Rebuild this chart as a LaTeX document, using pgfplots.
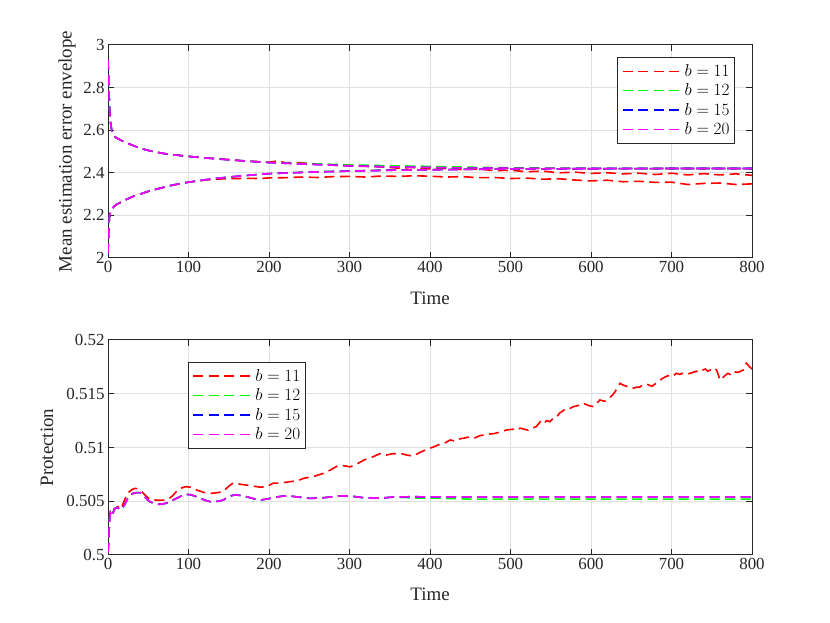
\documentclass[border=0pt]{standalone}
\usepackage{pgfplots}
\pgfplotsset{compat=1.18}
\usepackage{fontspec}
\setmainfont{Liberation Serif}
\definecolor{axgray}{rgb}{0.15,0.15,0.15}
\definecolor{gridgray}{rgb}{0.88,0.88,0.88}
\definecolor{cred}{rgb}{1,0,0}
\definecolor{cgreen}{rgb}{0,1,0}
\definecolor{cblue}{rgb}{0,0,1}
\definecolor{cmag}{rgb}{1,0,1}
\pgfplotsset{
  sred/.style={draw=cred, color=cred, line width=1.6bp, dash pattern=on 10bp off 5.5bp},
  sgreen/.style={draw=cgreen, color=cgreen, line width=1.6bp, dash pattern=on 10bp off 5.5bp},
  sblue/.style={draw=cblue, color=cblue, line width=1.6bp, dash pattern=on 10bp off 5.5bp},
  smag/.style={draw=cmag, color=cmag, line width=1.6bp, dash pattern=on 10bp off 5.5bp},
  commonstyle/.style={
    scale only axis,
    width=644bp,
    xmin=0, xmax=800,
    xtick={0,100,...,800},
    xticklabels={0,100,200,300,400,500,600,700,800},
    tick align=inside,
    major tick length=6bp,
    axis line style={axgray, line width=1bp},
    every tick/.style={axgray, line width=1bp},
    grid=major,
    grid style={gridgray, line width=1bp},
    tick label style={font=\fontsize{17}{20}\selectfont, text=axgray},
    label style={font=\fontsize{19}{22}\selectfont, text=axgray},
    legend style={font=\fontsize{17}{19}\selectfont, draw=axgray, line width=1bp, fill=white,
      inner xsep=5bp, inner ysep=7bp, row sep=6bp, column sep=5.5bp,
      nodes={inner sep=0pt},
      cells={anchor=west}},
    legend image code/.code={%
      \fill[#1, draw=none, fill opacity=1] (0bp,-0.7bp) rectangle (10bp,0.7bp);
      \fill[#1, draw=none, fill opacity=1] (15.5bp,-0.7bp) rectangle (25.5bp,0.7bp);
      \fill[#1, draw=none, fill opacity=1] (31bp,-0.7bp) rectangle (41bp,0.7bp);
      \fill[#1, draw=none, fill opacity=1] (46.5bp,-0.7bp) rectangle (56.5bp,0.7bp);},
    xlabel={Time},
  }
}
\begin{document}
\begin{tikzpicture}[x=1bp,y=1bp]
\path[use as bounding box] (0,0) rectangle (830,623);
% ---------------- top ----------------
\begin{axis}[commonstyle,
  at={(108bp,365bp)}, anchor=south west,
  height=213bp,
  ymin=2, ymax=3,
  ytick={2,2.2,2.4,2.6,2.8,3},
  yticklabels={2,2.2,2.4,2.6,2.8,3},
  ylabel={Mean estimation error envelope},
  ylabel style={at={(axis description cs:-0.0637,0.5)}, anchor=center},
  xlabel style={at={(axis description cs:0.5,-0.19)}, anchor=center},
  legend style={at={(axis description cs:0.9736,0.9437)}, anchor=north east},
]
% red upper
\addplot[sred] coordinates {(0,2.93) (1,2.80) (2,2.70) (3,2.64) (5,2.59) (7,2.575) (10,2.565) (15,2.555) (20,2.545) (30,2.53) (40,2.515) (50,2.505) (60,2.497) (70,2.49) (80,2.485) (100,2.477) (120,2.47) (150,2.462) (170,2.455) (190,2.452) (200,2.45) (210,2.455) (220,2.448) (240,2.447) (260,2.44) (280,2.437) (300,2.432) (320,2.43) (340,2.428) (360,2.422) (380,2.425) (400,2.418) (420,2.42) (440,2.415) (460,2.418) (480,2.41) (500,2.412) (520,2.405) (540,2.408) (560,2.4) (580,2.403) (600,2.397) (620,2.4) (640,2.395) (660,2.398) (680,2.392) (700,2.398) (720,2.39) (740,2.396) (760,2.39) (780,2.395) (800,2.388)};
\addlegendentry{$b=11$}
% green upper
\addplot[sgreen] coordinates {(0,2.93) (1,2.80) (2,2.70) (3,2.64) (5,2.59) (7,2.575) (10,2.565) (15,2.555) (20,2.545) (30,2.53) (40,2.515) (50,2.505) (60,2.497) (70,2.49) (80,2.485) (100,2.477) (120,2.47) (150,2.461) (180,2.453) (200,2.448) (250,2.443) (300,2.437) (350,2.433) (400,2.43) (450,2.426) (500,2.423) (600,2.421) (700,2.42) (800,2.42)};
\addlegendentry{$b=12$}
% blue upper
\addplot[sblue] coordinates {(0,2.93) (1,2.80) (2,2.70) (3,2.64) (5,2.59) (7,2.575) (10,2.565) (15,2.555) (20,2.545) (30,2.53) (40,2.515) (50,2.505) (60,2.497) (70,2.49) (80,2.485) (100,2.477) (120,2.47) (150,2.461) (180,2.453) (200,2.448) (250,2.44) (300,2.433) (350,2.428) (400,2.425) (450,2.422) (500,2.421) (600,2.42) (700,2.42) (800,2.42)};
\addlegendentry{$b=15$}
% magenta upper
\addplot[smag] coordinates {(0,2.93) (1,2.80) (2,2.70) (3,2.64) (5,2.59) (7,2.575) (10,2.565) (15,2.555) (20,2.545) (30,2.53) (40,2.515) (50,2.505) (60,2.497) (70,2.49) (80,2.485) (100,2.477) (120,2.47) (150,2.461) (180,2.453) (200,2.448) (250,2.44) (300,2.433) (350,2.428) (400,2.425) (450,2.422) (500,2.421) (600,2.42) (700,2.42) (800,2.42)};
\addlegendentry{$b=20$}
% lower curves
\addplot[sred, forget plot] coordinates {(0,2.02) (1,2.15) (2,2.20) (4,2.225) (7,2.24) (10,2.25) (20,2.27) (30,2.287) (40,2.30) (50,2.313) (60,2.323) (80,2.342) (100,2.356) (120,2.365) (130,2.37) (150,2.372) (170,2.374) (190,2.373) (200,2.376) (220,2.377) (240,2.38) (260,2.378) (280,2.382) (300,2.383) (320,2.38) (340,2.385) (360,2.383) (380,2.386) (400,2.384) (420,2.38) (440,2.382) (460,2.377) (480,2.378) (500,2.373) (520,2.375) (540,2.37) (560,2.372) (580,2.366) (600,2.362) (620,2.365) (640,2.358) (660,2.36) (680,2.355) (700,2.356) (720,2.345) (740,2.35) (760,2.352) (780,2.345) (800,2.348)};
\addplot[sgreen, forget plot] coordinates {(0,2.02) (1,2.15) (2,2.20) (4,2.225) (7,2.24) (10,2.25) (20,2.27) (30,2.287) (40,2.30) (50,2.313) (60,2.323) (80,2.342) (100,2.356) (120,2.367) (150,2.38) (180,2.39) (200,2.396) (250,2.404) (300,2.409) (350,2.413) (400,2.415) (450,2.417) (500,2.418) (600,2.419) (700,2.42) (800,2.42)};
\addplot[sblue, forget plot] coordinates {(0,2.02) (1,2.15) (2,2.20) (4,2.225) (7,2.24) (10,2.25) (20,2.27) (30,2.287) (40,2.30) (50,2.313) (60,2.323) (80,2.342) (100,2.356) (120,2.367) (150,2.38) (180,2.39) (200,2.396) (250,2.403) (300,2.408) (350,2.412) (400,2.414) (450,2.416) (500,2.418) (600,2.419) (700,2.42) (800,2.42)};
\addplot[smag, forget plot] coordinates {(0,2.02) (1,2.15) (2,2.20) (4,2.225) (7,2.24) (10,2.25) (20,2.27) (30,2.287) (40,2.30) (50,2.313) (60,2.323) (80,2.342) (100,2.356) (120,2.367) (150,2.38) (180,2.39) (200,2.396) (250,2.403) (300,2.408) (350,2.412) (400,2.414) (450,2.416) (500,2.418) (600,2.419) (700,2.42) (800,2.42)};
\end{axis}
% ---------------- bottom ----------------
\begin{axis}[commonstyle,
  at={(108bp,68bp)}, anchor=south west,
  height=215bp,
  ymin=0.5, ymax=0.52,
  ytick={0.5,0.505,0.51,0.515,0.52},
  yticklabels={0.5,0.505,0.51,0.515,0.52},
  ylabel={Protection},
  ylabel style={at={(axis description cs:-0.0947,0.5)}, anchor=center},
  xlabel style={at={(axis description cs:0.5,-0.181)}, anchor=center},
  legend style={at={(axis description cs:0.124,0.898)}, anchor=north west},
]
\addplot[sred] coordinates {(0,0.5002) (1,0.5015) (2,0.5035) (3,0.504) (5,0.5037) (8,0.5043) (12,0.5045) (16,0.5043) (20,0.505) (24,0.50574) (30,0.5061) (34,0.5062) (38,0.5061) (42,0.50589) (47,0.5055) (52,0.50518) (60,0.5051) (69,0.5051) (75,0.5052) (80,0.5055) (85,0.5059) (90,0.5062) (96.5,0.50636) (103,0.5063) (110,0.50605) (120,0.5058) (129,0.50574) (136,0.5058) (143,0.5059) (150,0.5064) (155,0.50667) (163,0.5066) (172,0.5065) (181,0.5064) (190,0.5063) (198,0.5064) (205,0.50667) (215,0.5067) (226,0.50682) (235,0.5069) (243,0.50713) (255,0.5073) (268,0.5076) (276,0.5079) (285,0.50828) (293,0.5083) (301,0.5082) (310,0.5085) (318,0.50884) (328,0.5091) (339,0.50946) (346,0.5093) (352,0.5094) (363,0.50946) (371,0.5093) (379,0.5092) (389,0.5096) (400,0.50993) (406,0.5101) (412,0.5103) (418,0.5104) (425,0.5107) (431,0.5106) (437,0.5108) (444,0.5109) (450,0.51101) (456,0.5109) (462,0.5111) (469,0.5112) (475,0.51126) (480,0.5113) (485,0.5114) (490,0.5115) (495,0.51163) (503,0.5117) (507,0.5116) (512,0.5118) (517,0.5117) (522,0.5116) (527,0.5118) (532,0.51194) (537,0.5124) (541,0.5122) (545,0.5125) (549,0.5124) (553,0.51272) (557,0.5128) (561,0.5132) (565,0.5134) (569,0.51365) (573,0.5136) (578,0.5138) (584,0.5139) (590,0.51412) (594,0.514) (597,0.5139) (603,0.5138) (607,0.5141) (611,0.51442) (617,0.5143) (623,0.5146) (627,0.5149) (630,0.5152) (636,0.51597) (640,0.5158) (644,0.5157) (648,0.5156) (652,0.51551) (656,0.5156) (660,0.5156) (664,0.5158) (669,0.5159) (672,0.5158) (676,0.5157) (683,0.5161) (689,0.51644) (693,0.5166) (697,0.5167) (701,0.5166) (706,0.5169) (710,0.5168) (714,0.5169) (718,0.5168) (723,0.5169) (727,0.517) (731,0.5171) (735,0.517) (739,0.51721) (742,0.5173) (745,0.5171) (748,0.5172) (751,0.51737) (753,0.5174) (756,0.5172) (758,0.5168) (760,0.51628) (763,0.5164) (765,0.5166) (770,0.5169) (773,0.5168) (776,0.5171) (780,0.517) (783,0.517) (786,0.5171) (789,0.5172) (793,0.51784) (797,0.5175) (800,0.5173)};
\addlegendentry{$b=11$}
\addplot[sgreen] coordinates {(0,0.5002) (1,0.5015) (2,0.5035) (3,0.5039) (5,0.5036) (8,0.5043) (12,0.5044) (16,0.5042) (20,0.5046) (24,0.5052) (30,0.5057) (35,0.5058) (40,0.5058) (44,0.5056) (48,0.5052) (52,0.50496) (58,0.50478) (63,0.50471) (70,0.50478) (75,0.50487) (85,0.50527) (96,0.50565) (103,0.5056) (110,0.50543) (120,0.5051) (127,0.50496) (135,0.50498) (143,0.5051) (150,0.50545) (158,0.5056) (168,0.5055) (178,0.5053) (188,0.5051) (197,0.5052) (205,0.50533) (215,0.50546) (225,0.5055) (235,0.5054) (250,0.50527) (265,0.5053) (280,0.50543) (291,0.5055) (305,0.50545) (320,0.5053) (340,0.5053) (356,0.5054) (380,0.5053) (400,0.5053) (450,0.5052) (500,0.5052) (600,0.5052) (700,0.5052) (800,0.5052)};
\addlegendentry{$b=12$}
\addplot[sblue] coordinates {(0,0.5002) (1,0.5015) (2,0.5035) (3,0.5039) (5,0.5036) (8,0.5043) (12,0.5044) (16,0.5042) (20,0.5046) (24,0.5052) (30,0.5057) (35,0.5058) (40,0.5058) (44,0.5056) (48,0.5052) (52,0.50496) (58,0.50478) (63,0.50471) (70,0.50478) (75,0.50487) (85,0.50527) (96,0.50565) (103,0.5056) (110,0.50543) (120,0.5051) (127,0.50496) (135,0.50498) (143,0.5051) (150,0.50545) (158,0.5056) (168,0.5055) (178,0.5053) (188,0.5051) (197,0.5052) (205,0.50533) (215,0.50546) (225,0.5055) (235,0.5054) (250,0.50527) (265,0.5053) (280,0.50543) (291,0.5055) (305,0.50545) (320,0.5053) (340,0.5053) (356,0.5054) (380,0.50542) (400,0.5054) (450,0.5054) (500,0.5054) (600,0.5054) (700,0.5054) (800,0.5054)};
\addlegendentry{$b=15$}
\addplot[smag] coordinates {(0,0.5002) (1,0.5015) (2,0.5035) (3,0.5039) (5,0.5036) (8,0.5043) (12,0.5044) (16,0.5042) (20,0.5046) (24,0.5052) (30,0.5057) (35,0.5058) (40,0.5058) (44,0.5056) (48,0.5052) (52,0.50496) (58,0.50478) (63,0.50471) (70,0.50478) (75,0.50487) (85,0.50527) (96,0.50565) (103,0.5056) (110,0.50543) (120,0.5051) (127,0.50496) (135,0.50498) (143,0.5051) (150,0.50545) (158,0.5056) (168,0.5055) (178,0.5053) (188,0.5051) (197,0.5052) (205,0.50533) (215,0.50546) (225,0.5055) (235,0.5054) (250,0.50527) (265,0.5053) (280,0.50543) (291,0.5055) (305,0.50545) (320,0.5053) (340,0.5053) (356,0.5054) (380,0.50542) (400,0.5054) (450,0.5054) (500,0.5054) (600,0.5054) (700,0.5054) (800,0.5054)};
\addlegendentry{$b=20$}
\end{axis}
\end{tikzpicture}
\end{document}
